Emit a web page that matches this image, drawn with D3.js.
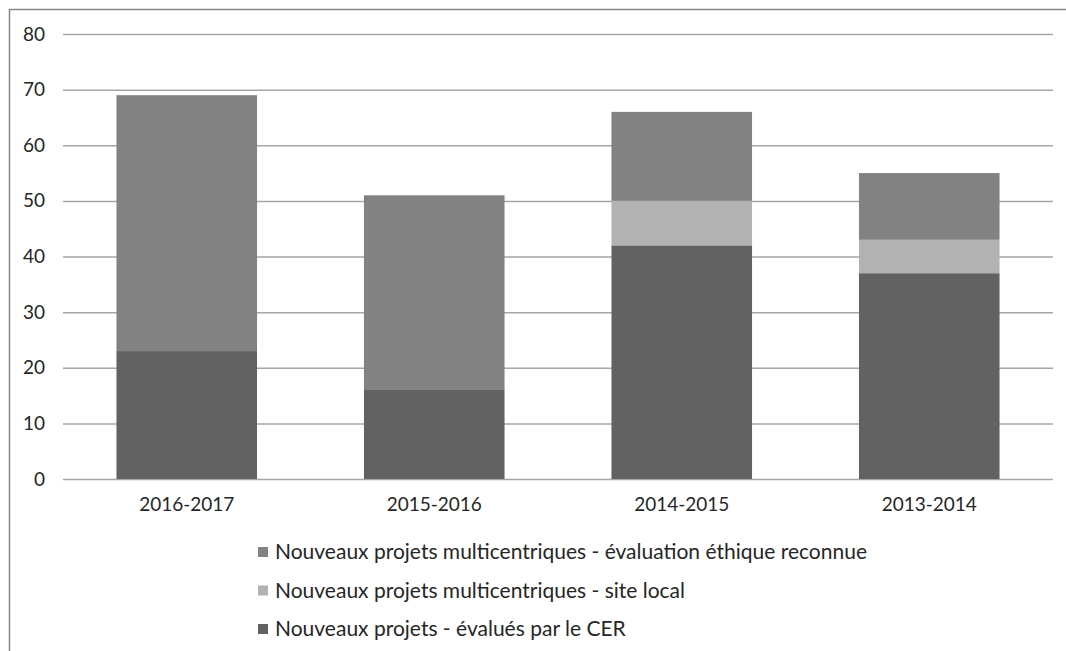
<!DOCTYPE html>
<html>
<head>
<meta charset="utf-8">
<script src="https://cdn.jsdelivr.net/npm/d3@7"></script>
<style>
    body { margin: 0; background: #fff; }
    svg text { font-family: Lato, "Open Sans", sans-serif; fill: #262626; }
</style>
</head>
<body>
<div id="chart"></div>
<script>
const categories = ["2016-2017", "2015-2016", "2014-2015", "2013-2014"];
const seriesNames = [
    "Nouveaux projets - évalués par le CER",
    "Nouveaux projets multicentriques - site local",
    "Nouveaux projets multicentriques - évaluation éthique reconnue"
];
const cerValues = [23, 16, 42, 37];
const localValues = [0, 0, 8, 6];
const reconnueValues = [46, 35, 16, 12];
const yTicks = [0, 10, 20, 30, 40, 50, 60, 70, 80];

const width = 1066;
const height = 651;
const margin = ({top: 34, right: 13, bottom: 172, left: 63});

const colors = ["#626262", "#b2b2b2", "#828282"];

const rows = categories.map((c, i) => ({
    cat: c,
    [seriesNames[0]]: cerValues[i],
    [seriesNames[1]]: localValues[i],
    [seriesNames[2]]: reconnueValues[i]
}));
const series = d3.stack().keys(seriesNames)(rows);

const x = d3.scaleBand()
    .domain(categories)
    .range([margin.left, width - margin.right])
    .paddingInner(0.432)
    .paddingOuter(0.216);

const y = d3.scaleLinear()
    .domain([0, 80])
    .range([height - margin.bottom, margin.top]);

const color = d3.scaleOrdinal().domain(seriesNames).range(colors);

const svg = d3.select("#chart").append("svg")
    .attr("width", width)
    .attr("height", height)
    .attr("viewBox", [0, 0, width, height]);

// outer frame (runs off the right and bottom edges)
svg.append("rect")
    .attr("x", 9.5)
    .attr("y", 9.5)
    .attr("width", width + 20)
    .attr("height", height + 20)
    .attr("fill", "none")
    .attr("stroke", "#868686")
    .attr("stroke-width", 1.5);

// gridlines + y labels
svg.append("g")
    .attr("transform", `translate(${margin.left},0)`)
    .call(d3.axisLeft(y).tickValues(yTicks)
        .tickSize(-(width - margin.left - margin.right))
        .tickPadding(18))
    .call(g => g.select(".domain").remove())
    .call(g => g.selectAll(".tick line").attr("stroke", "#a6a6a6").attr("stroke-width", 1.5))
    .call(g => g.selectAll(".tick text")
        .attr("font-size", 19)
        .attr("fill", "#262626"));

svg.append("g")
    .selectAll("g")
    .data(series)
    .join("g")
    .attr("fill", d => color(d.key))
    .selectAll("rect")
    .data(d => d)
    .join("rect")
    .attr("x", d => x(d.data.cat))
    .attr("y", d => y(d[1]))
    .attr("height", d => y(d[0]) - y(d[1]))
    .attr("width", x.bandwidth());

// x labels
svg.append("g")
    .attr("transform", `translate(0,${height - margin.bottom})`)
    .call(d3.axisBottom(x).tickSize(0).tickPadding(19))
    .call(g => g.select(".domain").remove())
    .call(g => g.selectAll(".tick text")
        .attr("font-size", 19)
        .attr("fill", "#262626"));

// legend, top entry is the top of the stack
const legendItems = seriesNames.slice().reverse();
const legend = svg.append("g")
    .selectAll("g")
    .data(legendItems)
    .join("g")
    .attr("transform", (d, i) => `translate(258,${552 + i * 38.5})`);

legend.append("rect")
    .attr("x", 0)
    .attr("y", -5)
    .attr("width", 10)
    .attr("height", 10)
    .attr("fill", d => color(d));

legend.append("text")
    .attr("x", 17)
    .attr("y", 0)
    .attr("dy", "0.35em")
    .attr("font-size", 21)
    .text(d => d);
</script>
</body>
</html>
